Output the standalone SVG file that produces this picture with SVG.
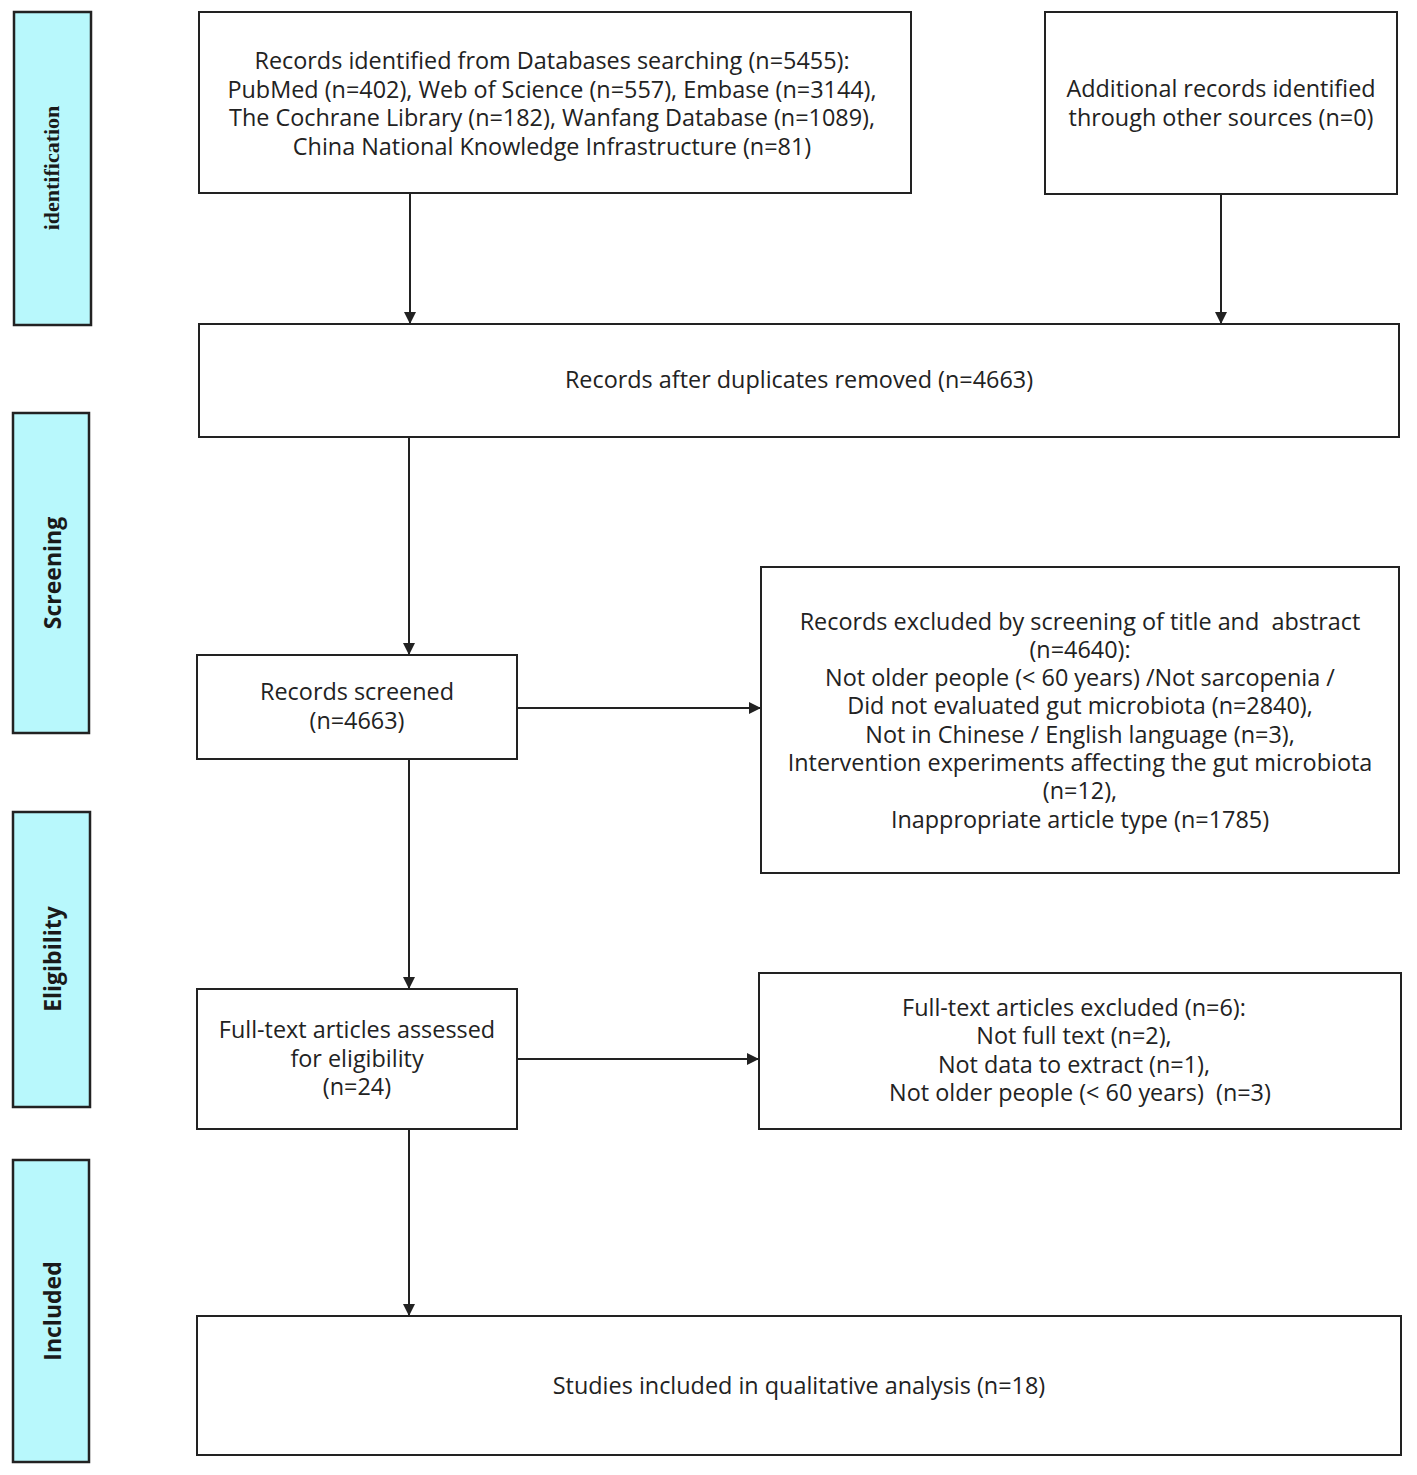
<svg xmlns="http://www.w3.org/2000/svg" width="1417" height="1475" viewBox="0 0 1417 1475">
<style>
.box{fill:#fff;stroke:#222;stroke-width:2}
.side{fill:#b8f8fc;stroke:#222;stroke-width:2.5}
.t{font-family:"Open Sans","Noto Sans",sans-serif;font-size:23.4px;fill:#222;text-anchor:middle}
.s{font-family:"Open Sans","Noto Sans",sans-serif;font-size:23px;font-weight:bold;fill:#1a1a1a;text-anchor:middle}
.sr{font-family:"Liberation Serif",serif;font-size:22px;font-weight:bold;fill:#1a1a1a;text-anchor:middle}
.c{stroke:#222;stroke-width:2;fill:none;marker-end:url(#ah)}
</style>
<defs>
<marker id="ah" markerWidth="12" markerHeight="22" refX="11" refY="11" orient="auto" markerUnits="userSpaceOnUse">
<path d="M0,5 L12,11 L0,17 Z" fill="#222"/>
</marker>
</defs>
<rect width="1417" height="1475" fill="#fff"/>
<g id="phase-identification"><rect class="side" x="14" y="12" width="77" height="313"/><text class="sr" transform="translate(59,168) rotate(-90)">identification</text></g>
<g id="phase-screening"><rect class="side" x="13" y="413" width="76" height="320"/><text class="s" transform="translate(61,573) rotate(-90)">Screening</text></g>
<g id="phase-eligibility"><rect class="side" x="13" y="812" width="77" height="295"/><text class="s" transform="translate(61,959) rotate(-90)">Eligibility</text></g>
<g id="phase-included"><rect class="side" x="13" y="1160" width="76" height="302"/><text class="s" transform="translate(61,1311) rotate(-90)">Included</text></g>

<g id="connectors">
<line class="c" x1="410" y1="193" x2="410" y2="323"/>
<line class="c" x1="1221" y1="194" x2="1221" y2="323"/>
<line class="c" x1="409" y1="437" x2="409" y2="654"/>
<line class="c" x1="517" y1="708" x2="760" y2="708"/>
<line class="c" x1="409" y1="759" x2="409" y2="988"/>
<line class="c" x1="517" y1="1059" x2="758" y2="1059"/>
<line class="c" x1="409" y1="1129" x2="409" y2="1315"/>
</g>

<g id="n-databases"><rect class="box" x="199" y="12" width="712" height="181"/>
<text class="t" x="552" y="69">Records identified from Databases searching (n=5455):</text>
<text class="t" x="552" y="98">PubMed (n=402), Web of Science (n=557), Embase (n=3144),</text>
<text class="t" x="552" y="126">The Cochrane Library (n=182), Wanfang Database (n=1089),</text>
<text class="t" x="552" y="155">China National Knowledge Infrastructure (n=81)</text></g>
<g id="n-other"><rect class="box" x="1045" y="12" width="352" height="182"/>
<text class="t" x="1221" y="97">Additional records identified</text>
<text class="t" x="1221" y="126">through other sources (n=0)</text></g>
<g id="n-dedup"><rect class="box" x="199" y="324" width="1200" height="113"/>
<text class="t" x="799" y="388">Records after duplicates removed (n=4663)</text></g>
<g id="n-screened"><rect class="box" x="197" y="655" width="320" height="104"/>
<text class="t" x="357" y="700">Records screened</text>
<text class="t" x="357" y="729">(n=4663)</text></g>
<g id="n-excluded1"><rect class="box" x="761" y="567" width="638" height="306"/>
<text class="t" x="1080" y="630" xml:space="preserve">Records excluded by screening of title and  abstract</text>
<text class="t" x="1080" y="658">(n=4640):</text>
<text class="t" x="1080" y="686">Not older people (&lt; 60 years) /Not sarcopenia /</text>
<text class="t" x="1080" y="714">Did not evaluated gut microbiota (n=2840),</text>
<text class="t" x="1080" y="743">Not in Chinese / English language (n=3),</text>
<text class="t" x="1080" y="771">Intervention experiments affecting the gut microbiota</text>
<text class="t" x="1080" y="799">(n=12),</text>
<text class="t" x="1080" y="828">Inappropriate article type (n=1785)</text></g>
<g id="n-fulltext"><rect class="box" x="197" y="989" width="320" height="140"/>
<text class="t" x="357" y="1038">Full-text articles assessed</text>
<text class="t" x="357" y="1067">for eligibility</text>
<text class="t" x="357" y="1095">(n=24)</text></g>
<g id="n-excluded2"><rect class="box" x="759" y="973" width="642" height="156"/>
<text class="t" x="1074" y="1016">Full-text articles excluded (n=6):</text>
<text class="t" x="1074" y="1044">Not full text (n=2),</text>
<text class="t" x="1074" y="1073">Not data to extract (n=1),</text>
<text class="t" x="1080" y="1101" xml:space="preserve">Not older people (&lt; 60 years)  (n=3)</text></g>
<g id="n-included"><rect class="box" x="197" y="1316" width="1204" height="139"/>
<text class="t" x="799" y="1394">Studies included in qualitative analysis (n=18)</text></g>
</svg>
